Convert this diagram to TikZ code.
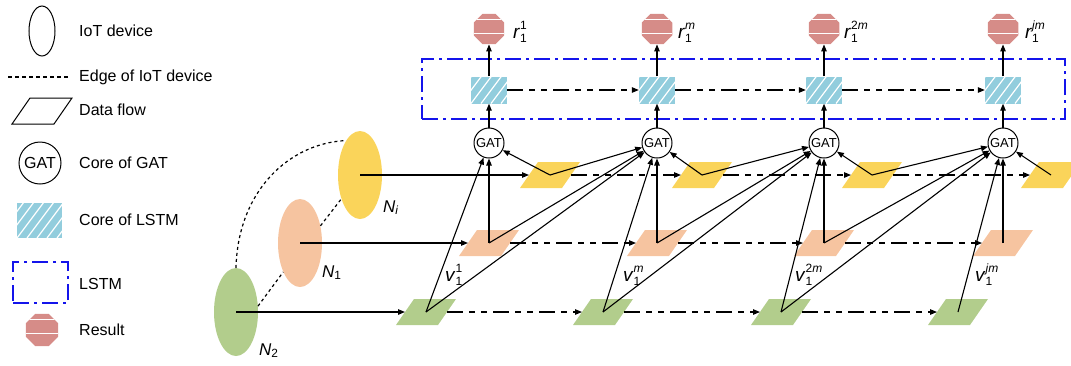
\documentclass[tikz,border=0pt]{standalone}
\usepackage{fontspec}
\setmainfont{Liberation Sans}
\usetikzlibrary{shapes.geometric,arrows.meta,calc}
\definecolor{yel}{RGB}{250,212,90}
\definecolor{pch}{RGB}{246,196,160}
\definecolor{grn}{RGB}{178,205,140}
\definecolor{rred}{RGB}{214,140,136}
\definecolor{lblue}{RGB}{146,205,221}
\definecolor{lstmblue}{RGB}{20,20,235}
\newcommand\lsub[2]{\rlap{\raisebox{-4pt}{\fontsize{12}{12}\selectfont #1}}\raisebox{8.5pt}{\fontsize{12}{12}\selectfont #2}}
% data-flow parallelogram: name, x, y, style
\newcommand\dflow[4]{%
  \coordinate (#1) at (#2,#3);
  \coordinate (#1w) at (#2-21,#3);
  \coordinate (#1e) at (#2+21,#3);
  \path[#4] (#2-30,#3+13) -- (#2+12,#3+13) -- (#2+30,#3-13) -- (#2-12,#3-13) -- cycle;}
\begin{document}
\begin{tikzpicture}[x=1pt,y=-1pt,
  arr/.style={-{Triangle[length=7pt,width=5.5pt]}, line width=1.1pt},
  dsh/.style={dash pattern=on 16pt off 6pt on 6pt off 6pt on 6pt off 6pt},
  dotl/.style={dash pattern=on 3pt off 3pt, line width=1.2pt},
  lstmbox/.style={draw=lstmblue, line width=1.4pt, dash pattern=on 16pt off 5pt on 3pt off 5pt, inner sep=0pt},
  gat/.style={circle, draw, line width=1pt, fill=white, minimum size=30pt, inner sep=0pt, font=\fontsize{13}{13}\selectfont},
  cell/.style={rectangle, fill=lblue, minimum width=36pt, minimum height=27pt, inner sep=0pt,
    path picture={\foreach \k in {-30,-20,...,40} \draw[white,line width=1.2pt] ([xshift=\k pt]path picture bounding box.south west) -- ++(30pt,40pt);}},
  res/.style={regular polygon, regular polygon sides=8, fill=rred, minimum size=33pt, inner sep=0pt,
    path picture={\draw[white,line width=1.2pt] ([yshift=-5.5pt]path picture bounding box.north west) -- ([yshift=-5.5pt]path picture bounding box.north east);
      \draw[white,line width=1.2pt] ([yshift=-20pt]path picture bounding box.north west) -- ([yshift=-20pt]path picture bounding box.north east);}},
  dev/.style={ellipse, minimum width=44pt, minimum height=88pt, inner sep=0pt},
  lab/.style={anchor=west, inner sep=0pt, font=\fontsize{16}{19}\selectfont},
  nlab/.style={anchor=base west, inner sep=0pt, font=\fontsize{17}{20}\selectfont},
  vlab/.style={anchor=base west, inner sep=0pt, font=\fontsize{19}{22}\selectfont},
]
\useasboundingbox (0,0) rectangle (1071,365);

% ---------- legend ----------
\node[dev, draw, line width=1pt, minimum width=26pt, minimum height=50pt] (le) at (42,31) {};
\node[lab] (lt1) at (79,31) {IoT device};
\coordinate (ld1) at (8,77); \coordinate (ld2) at (68,77);
\draw[dash pattern=on 4pt off 3pt, line width=1.1pt] (ld1) -- (ld2);
\node[lab] (lt2) at (79,77) {Edge of IoT device};
\dflow{lp}{42}{111}{draw, line width=1pt}
\node[lab] (lt3) at (79,110) {Data flow};
\node[gat, minimum size=42pt, font=\fontsize{16}{16}\selectfont] (lg) at (40,163) {GAT};
\node[lab] (lt4) at (79,163) {Core of GAT};
\node[cell, minimum width=45pt, minimum height=35pt] (lc) at (39.5,220.5) {};
\node[lab] (lt5) at (79,220) {Core of LSTM};
\node[lstmbox, minimum width=55pt, minimum height=41pt] (ll) at (40.5,282.5) {};
\node[lab] (lt6) at (79,284) {LSTM};
\node[res, minimum size=35pt] (lr) at (42,330) {};
\node[lab] (lt7) at (79,330) {Result};

% ---------- LSTM frame ----------
\node[lstmbox, minimum width=643pt, minimum height=60pt] (lstm) at (743.5,89) {};

% ---------- devices ----------
\node[dev, fill=grn] (n2) at (236,312) {};
\node[dev, fill=pch] (n1) at (300,243) {};
\node[dev, fill=yel] (ni) at (360,175) {};
\node[nlab] (ln2) at (259,355) {\textit{N}\textsubscript{2}};
\node[nlab] (ln1) at (322,277) {\textit{N}\textsubscript{1}};
\node[nlab] (lni) at (383,212) {\textit{N}\textsubscript{\textit{i}}};
\draw[dotl] (n2.north) .. controls (238,190) and (290,143) .. (ni.112);
\draw[dotl] (n2.15) -- (n1.240);
\draw[dotl] (n1.40) -- (ni.232);

% ---------- data flows ----------
\dflow{ye1}{550}{175}{fill=yel}
\dflow{ye2}{702}{175}{fill=yel}
\dflow{ye3}{872}{175}{fill=yel}
\dflow{ye4}{1051}{175}{fill=yel}
\dflow{or1}{489}{243}{fill=pch}
\dflow{or2}{657}{243}{fill=pch}
\dflow{or3}{824}{243}{fill=pch}
\dflow{or4}{1003}{243}{fill=pch}
\dflow{gr1}{426}{312}{fill=grn}
\dflow{gr2}{603}{312}{fill=grn}
\dflow{gr3}{781}{312}{fill=grn}
\dflow{gr4}{958}{312}{fill=grn}

% ---------- GAT / LSTM / results ----------
\foreach \i/\x in {1/489,2/657,3/824,4/1003}{
  \node[gat] (g\i) at (\x,143) {GAT};
  \node[cell] (c\i) at (\x,90) {};
  \node[res] (r\i) at (\x,29) {};
  \draw[arr] (g\i) -- (c\i);
  \draw[arr] (c\i) -- (r\i);
}

% ---------- rows ----------
\draw[arr] (ni.center) -- (ye1w);
\draw[arr] (n1.center) -- (or1w);
\draw[arr] (n2.center) -- (gr1w);
\foreach \a/\b in {1/2,2/3,3/4}{
  \draw[arr,dsh] (ye\a e) -- (ye\b w);
  \draw[arr,dsh] (or\a e) -- (or\b w);
  \draw[arr,dsh] (gr\a e) -- (gr\b w);
  \draw[arr,dsh] (c\a) -- (c\b);
}

% ---------- inputs to GAT ----------
\foreach \k in {1,2,3,4}{
  \draw[arr] (ye\k) -- (g\k);
  \draw[arr] (or\k) -- (g\k);
  \draw[arr] (gr\k) -- (g\k);
}
\foreach \a/\b in {1/2,2/3,3/4}{
  \draw[arr] (ye\a) -- (g\b);
  \draw[arr] (or\a) -- (g\b);
  \draw[arr] (gr\a) -- (g\b);
}

% ---------- labels ----------
\node[vlab] (rl1) at (513,38) {\textit{r}\lsub{1}{1}};
\node[vlab] (rl2) at (678,38) {\textit{r}\lsub{1}{\textit{m}}};
\node[vlab] (rl3) at (844,38) {\textit{r}\lsub{1}{2\textit{m}}};
\node[vlab] (rl4) at (1025,38) {\textit{r}\lsub{1}{\textit{jm}}};
\node[vlab] (vl1) at (445,281) {\textit{v}\lsub{1}{1}};
\node[vlab] (vl2) at (623,281) {\textit{v}\lsub{1}{\textit{m}}};
\node[vlab] (vl3) at (795,281) {\textit{v}\lsub{1}{2\textit{m}}};
\node[vlab] (vl4) at (975,281) {\textit{v}\lsub{1}{\textit{jm}}};
\end{tikzpicture}
\end{document}
